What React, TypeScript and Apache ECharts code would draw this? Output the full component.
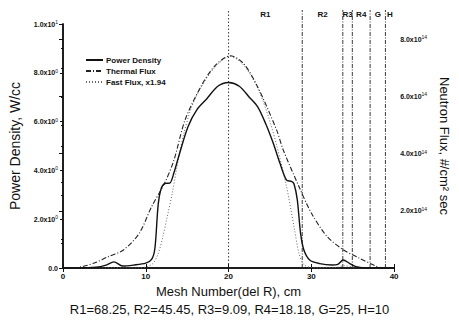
import React, { useEffect, useRef } from "react";
import * as echarts from "echarts";

// Mesh number (x) and power density (W/cc)
const powerX = [0, 2, 4, 5.2, 6.15, 7.2, 8.5, 10.0, 10.7, 11.1, 11.5, 11.9, 12.4, 12.9, 13.4, 14.0, 15.1, 16.2, 17.4, 18.7, 20.0, 21.3, 22.5, 23.5, 24.5, 25.4, 26.2, 27.0, 27.6, 27.9, 28.3, 28.7, 29.1, 29.8, 31.0, 32.5, 33.2, 33.85, 34.6, 35.4, 36.9, 40];
const powerY = [0, 0, 0.03, 0.12, 0.25, 0.08, 0.12, 0.2, 0.35, 0.8, 2.6, 3.3, 3.47, 3.48, 3.9, 4.6, 5.79, 6.5, 6.95, 7.45, 7.6, 7.45, 7.0, 6.61, 5.9, 5.11, 4.3, 3.6, 3.55, 3.45, 2.8, 1.42, 0.74, 0.33, 0.18, 0.12, 0.15, 0.33, 0.19, 0.05, 0, 0];

// Thermal flux (x10^14 #/cm^2 sec)
const thermalX = [0, 1.2, 2.5, 4, 5.4, 7.3, 9.2, 10.7, 12.26, 13.4, 14.75, 16.65, 18.3, 20.2, 21.8, 23.5, 25.8, 26.6, 28.5, 30.0, 31.9, 33.85, 35.76, 37.7, 38.6, 40];
const thermalY = [0, 0, 0.06, 0.2, 0.39, 0.63, 1.21, 2.14, 2.96, 3.77, 5.18, 6.34, 7.05, 7.42, 7.15, 6.34, 4.83, 4.13, 2.85, 1.92, 1.1, 0.64, 0.35, 0.08, 0, 0];

// Fast flux x1.94 (x10^14 #/cm^2 sec)
const fastX = [0, 9, 10.2, 10.9, 11.5, 12.07, 12.6, 13.2, 14.0, 14.6, 15.5, 16.65, 18.3, 20.2, 21.8, 23.5, 24.8, 25.8, 27.0, 27.9, 28.5, 29.1, 30.0, 33.0, 34.0, 35.0, 36.0, 40];
const fastY = [0, 0, 0.05, 0.17, 0.5, 1.1, 1.8, 2.62, 3.9, 4.7, 5.6, 6.3, 7.0, 7.4, 7.1, 6.3, 5.3, 4.3, 2.85, 1.45, 0.52, 0.12, 0.02, 0.02, 0.08, 0.03, 0, 0];

// Region boundaries (mesh number) and region names
const boundaries = [20, 28.9, 33.8, 34.95, 37.1, 38.95, 40];
const regionNames = ["R1", "R2", "R3", "R4", "G", "H"];

const seriesNames = ["Power Density", "Thermal Flux", "Fast Flux, x1.94"];
const caption = "R1=68.25, R2=45.45, R3=9.09, R4=18.18, G=25, H=10";

const FONT = "Liberation Sans";

export default function App() {
  const ref = useRef<HTMLDivElement>(null);
  useEffect(() => {
    if (!ref.current) return;
    const chart = echarts.init(ref.current, undefined, { renderer: "svg" });
    const pair = (xs: number[], ys: number[]) => xs.map((x, i) => [x, ys[i]]);
    const lineData = boundaries.slice(0, boundaries.length - 1).map((b) => [b, 0]);
    const labelData = regionNames.map((n, i) => [(boundaries[i] + boundaries[i + 1]) / 2, 0, n]);
    chart.setOption({
      animation: false,
      textStyle: { fontFamily: FONT },
      grid: { left: 58, right: 52, top: 24, bottom: 54 },
      title: {
        text: caption,
        left: "center",
        top: 298,
        textStyle: { fontFamily: FONT, fontSize: 13, fontWeight: "normal", color: "#111" },
      },
      legend: {
        data: seriesNames,
        orient: "vertical",
        left: 80,
        top: 51,
        itemWidth: 17,
        itemHeight: 8,
        itemGap: 3,
        itemStyle: { opacity: 0 },
        textStyle: { fontFamily: FONT, fontSize: 8, fontWeight: "bold", color: "#111", padding: [0, 0, 0, -2] },
      },
      xAxis: [
        {
          type: "value",
          min: 0,
          max: 40,
          interval: 10,
          name: "Mesh Number(del R), cm",
          nameLocation: "middle",
          nameGap: 12,
          nameTextStyle: { fontFamily: FONT, fontSize: 13, color: "#111" },
          axisLine: { lineStyle: { color: "#111", width: 1.5 } },
          axisTick: { inside: true, length: 4, lineStyle: { color: "#111" } },
          axisLabel: { fontSize: 8, fontWeight: "bold", color: "#111", margin: 4 },
          splitLine: { show: false },
        },
        {
          type: "value",
          position: "top",
          min: 0,
          max: 40,
          interval: 10,
          axisLine: { lineStyle: { color: "#111", width: 1.5 } },
          axisTick: { inside: true, length: 4, lineStyle: { color: "#111" } },
          axisLabel: { show: false },
          splitLine: { show: false },
        },
      ],
      yAxis: [
        {
          type: "value",
          min: 0,
          max: 10,
          interval: 2,
          name: "Power Density, W/cc",
          nameLocation: "middle",
          nameRotate: 90,
          nameGap: 41,
          nameTextStyle: { fontFamily: FONT, fontSize: 14, color: "#111" },
          axisLine: { show: true, lineStyle: { color: "#111", width: 1.5 } },
          axisTick: { length: 3, lineStyle: { color: "#111" } },
          minorTick: { show: true, splitNumber: 2, length: 2, lineStyle: { color: "#111" } },
          axisLabel: {
            margin: 5,
            color: "#111",
            formatter: (v: number) => {
              if (v === 0) return "{a|0.0}";
              if (v === 10) return "{a|1.0x10}{s|1}";
              return `{a|${v.toFixed(1)}x10}{s|0}`;
            },
            rich: {
              a: { fontSize: 7, fontWeight: "bold", color: "#111", fontFamily: FONT },
              s: { fontSize: 5, color: "#111", verticalAlign: "top", padding: [0, 0, 4, 0], fontFamily: FONT },
            },
          },
          splitLine: { show: false },
        },
        {
          type: "value",
          min: 0,
          max: 8.53,
          interval: 2,
          name: "Neutron Flux, #/cm\u00b2 sec",
          nameLocation: "middle",
          nameRotate: -90,
          nameGap: 38,
          nameTextStyle: { fontFamily: FONT, fontSize: 13, color: "#111" },
          axisLine: { show: true, lineStyle: { color: "#111", width: 1.5 } },
          axisTick: { inside: true, length: 4, lineStyle: { color: "#111" } },
          minorTick: { show: true, splitNumber: 2, length: 2, lineStyle: { color: "#111" } },
          axisLabel: {
            margin: 6,
            color: "#111",
            formatter: (v: number) => {
              if (v === 0 || Math.abs(v - Math.round(v)) > 1e-6) return "";
              return `{a|${v.toFixed(1)}x10}{s|14}`;
            },
            rich: {
              a: { fontSize: 7, fontWeight: "bold", color: "#111", fontFamily: FONT },
              s: { fontSize: 5, color: "#111", verticalAlign: "top", padding: [0, 0, 4, 0], fontFamily: FONT },
            },
          },
          splitLine: { show: false },
        },
      ],
      series: [
        {
          name: seriesNames[0],
          type: "line",
          yAxisIndex: 0,
          smooth: 0.3,
          symbol: "none",
          data: pair(powerX, powerY),
          lineStyle: { color: "#111", width: 1.4, type: "solid" },
          itemStyle: { color: "#111" },
          z: 5,
        },
        {
          name: seriesNames[1],
          type: "line",
          yAxisIndex: 1,
          smooth: 0.3,
          symbol: "none",
          data: pair(thermalX, thermalY),
          lineStyle: { color: "#222", width: 1.1, type: [5, 2, 1, 2] },
          itemStyle: { color: "#222" },
          z: 4,
        },
        {
          name: seriesNames[2],
          type: "line",
          yAxisIndex: 1,
          smooth: 0.3,
          symbol: "none",
          data: pair(fastX, fastY),
          lineStyle: { color: "#666", width: 1, type: [1, 2] },
          itemStyle: { color: "#666" },
          z: 3,
        },
        {
          type: "custom",
          yAxisIndex: 0,
          silent: true,
          clip: false,
          data: lineData,
          renderItem: (params: any, api: any) => {
            const p = api.coord([api.value(0), 0]);
            const top = params.coordSys.y;
            const first = params.dataIndex === 0;
            return {
              type: "line",
              shape: { x1: p[0], y1: p[1], x2: p[0], y2: top - 14 },
              style: {
                stroke: "#222",
                lineWidth: 0.9,
                lineDash: first ? [1.5, 2] : [4, 1.5, 1, 1.5],
              },
            };
          },
          z: 2,
        },
        {
          type: "custom",
          yAxisIndex: 0,
          silent: true,
          clip: false,
          data: labelData,
          renderItem: (params: any, api: any) => {
            const p = api.coord([api.value(0), 0]);
            const top = params.coordSys.y;
            const name = regionNames[params.dataIndex];
            return {
              type: "text",
              x: p[0],
              y: top - 10,
              style: {
                text: name,
                fontFamily: FONT,
                fontSize: 8,
                fontWeight: "bold",
                fill: "#111",
                align: "center",
                verticalAlign: "middle",
              },
            };
          },
          z: 2,
        },
      ],
    });
    return () => chart.dispose();
  }, []);
  return <div ref={ref} style={{ width: 459, height: 322, position: "absolute", left: 0, top: 0 }} />;
}
